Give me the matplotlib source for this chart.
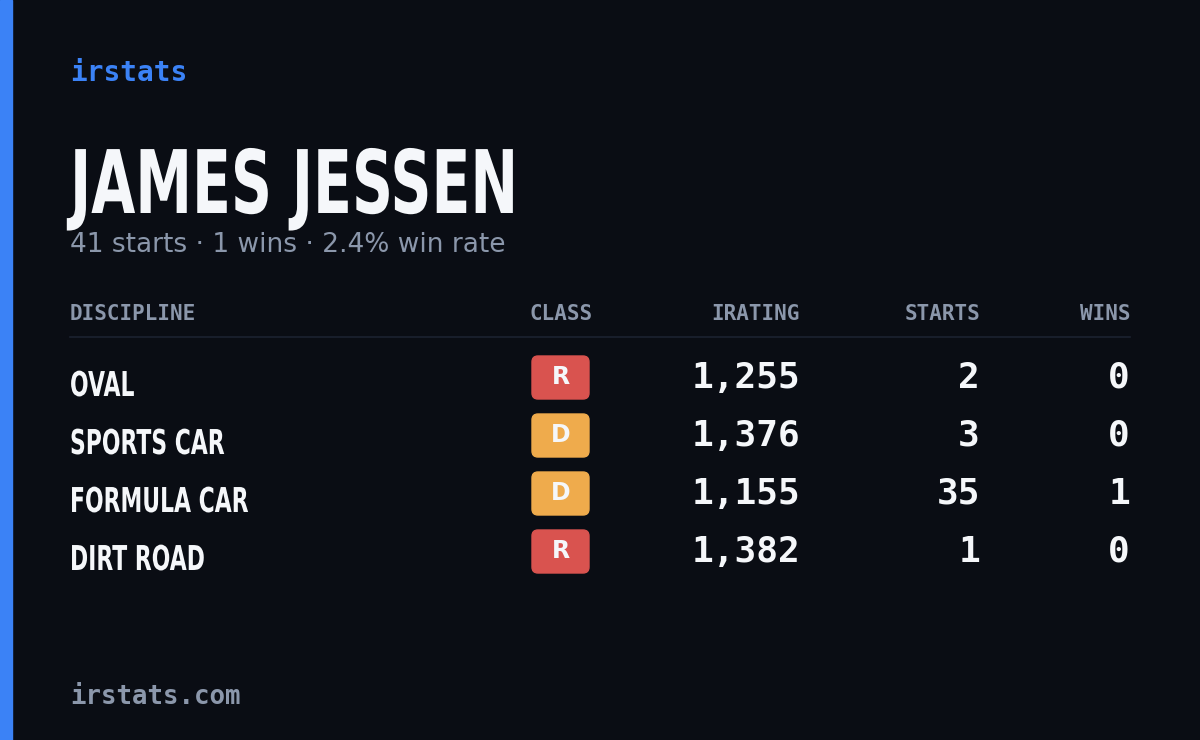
import matplotlib
matplotlib.use("Agg")
import matplotlib.pyplot as plt
from matplotlib.patches import FancyBboxPatch, Rectangle, PathPatch
from matplotlib.textpath import TextPath
from matplotlib.font_manager import FontProperties
from matplotlib.transforms import Affine2D

# ── data ──
driver = "JAMES JESSEN"
disciplines = ["OVAL", "SPORTS CAR", "FORMULA CAR", "DIRT ROAD"]
classes = ["R", "D", "D", "R"]
iratings = [1255, 1376, 1155, 1382]
starts = [2, 3, 35, 1]
wins = [0, 0, 1, 0]
headers = ["DISCIPLINE", "CLASS", "IRATING", "STARTS", "WINS"]

total_starts = sum(starts)
total_wins = sum(wins)
win_rate = 100 * total_wins / total_starts

BG = "#0a0d14"
BLUE = "#3b82f6"
GREY = "#8b97ab"
WHITE = "#f5f7fa"
class_colors = {"R": "#d9534f", "D": "#efab4c"}

W, H = 1200, 740
fig = plt.figure(figsize=(12, 7.4), dpi=100, facecolor=BG)
ax = fig.add_axes([0, 0, 1, 1])
ax.set_xlim(0, W)
ax.set_ylim(H, 0)
ax.axis("off")

ax.add_patch(Rectangle((0, 0), 12, H, color=BLUE))

mono = ["DejaVu Sans Mono"]
cond_fp = FontProperties(family="DejaVu Sans", weight="bold")


def condensed(x, y_base, s, cap_h, sx=0.62):
    # text drawn as a path, squeezed horizontally; y_base is baseline in px
    tp = TextPath((0, 0), s, size=100, prop=cond_fp)
    k = cap_h / 73.0  # DejaVu cap height ~0.73 em
    tr = Affine2D().scale(k * sx, -k).translate(x, y_base)
    ax.add_patch(PathPatch(tr.transform_path(tp), color=WHITE, lw=0))


ax.text(70, 73, "irstats", color=BLUE, fontsize=20, family=mono,
        weight="bold", va="center")
condensed(70, 213, driver, 64, sx=0.65)
ax.text(70, 245, f"{total_starts} starts · {total_wins} wins · {win_rate:.1f}% win rate",
        color=GREY, fontsize=19, family="DejaVu Sans", va="center")

# header
hx = [(70, "left"), (593, "right"), (800, "right"), (980, "right"), (1130, "right")]
for (x, ha), h in zip(hx, headers):
    ax.text(x, 314, h, color=GREY, fontsize=15, family=mono, weight="bold",
            ha=ha, va="center")
ax.plot([70, 1130], [337, 337], color="#1c2230", lw=1.2)

row_y = [378, 436, 494, 552]
for y, d, c, ir, s, wn in zip(row_y, disciplines, classes, iratings, starts, wins):
    condensed(70, y + 18, d, 25, sx=0.64)
    ax.add_patch(FancyBboxPatch((532, y - 22), 57, 43,
                                boxstyle="round,pad=0,rounding_size=6",
                                color=class_colors[c]))
    ax.text(560.5, y - 1, c, color=WHITE, fontsize=17, weight="bold",
            family="DejaVu Sans", ha="center", va="center")
    for xr, val in [(800, f"{ir:,}"), (980, str(s)), (1130, str(wn))]:
        ax.text(xr, y, val, color=WHITE, fontsize=26, family=mono,
                weight="bold", ha="right", va="center")

ax.text(70, 697, "irstats.com", color=GREY, fontsize=18.5, family=mono,
        weight="bold", va="center")

fig.savefig("out.png", dpi=100, facecolor=BG)
